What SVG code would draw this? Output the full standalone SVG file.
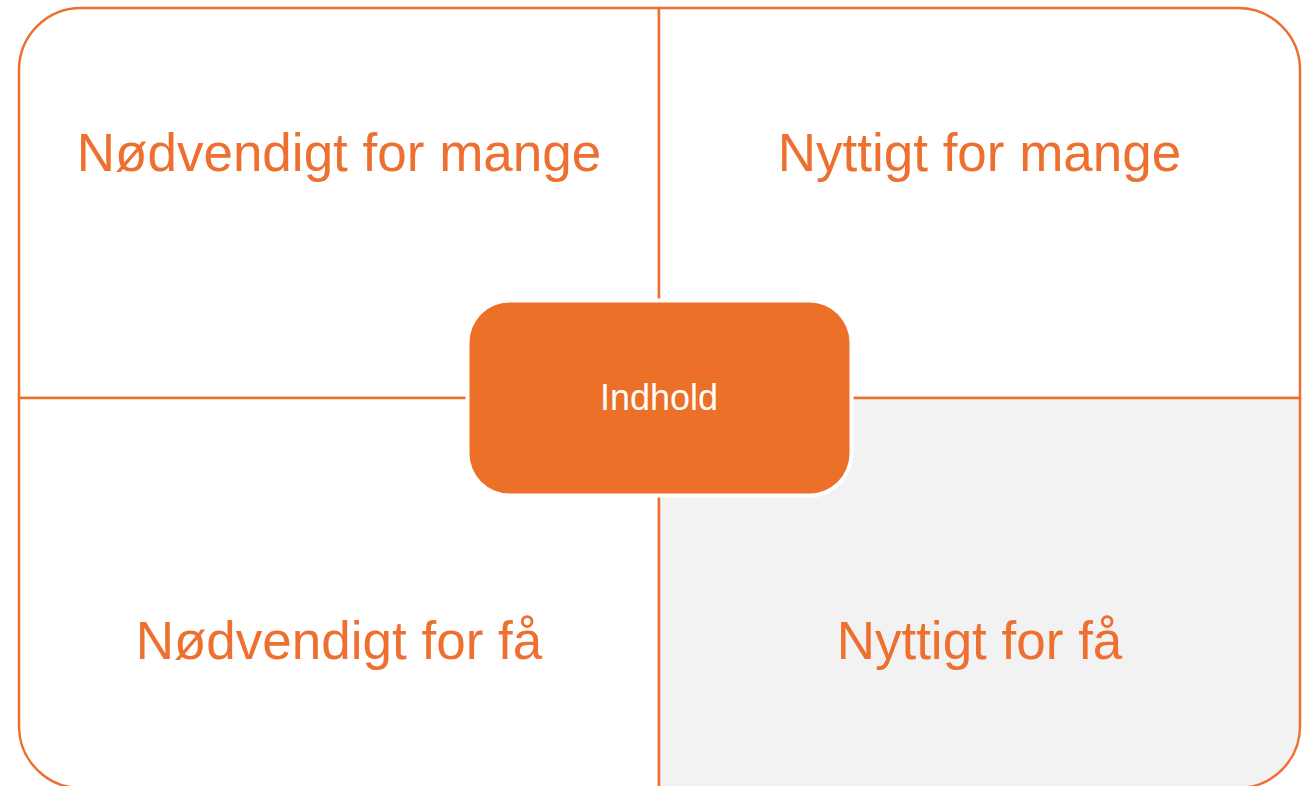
<svg xmlns="http://www.w3.org/2000/svg" width="1311" height="786" viewBox="0 0 1311 786">
<style>
.q{stroke:#ED7030;stroke-width:2.5;}
.lbl{font-family:"Liberation Sans",Arial,sans-serif;font-size:53px;fill:#ED7030;text-anchor:middle;}
.ctr{font-family:"Liberation Sans",Arial,sans-serif;font-size:36px;fill:#ffffff;text-anchor:middle;}
</style>
<rect width="1311" height="786" fill="#ffffff"/>
<g id="quadrant-tl">
<path class="q" fill="#ffffff" d="M19,398 V70 A62,62 0 0 1 81,8 H659 V398 Z"/>
<text class="lbl" x="339" y="171">Nødvendigt for mange</text>
</g>
<g id="quadrant-tr">
<path class="q" fill="#ffffff" d="M659,8 H1238 A62,62 0 0 1 1300,70 V398 H659 Z"/>
<text class="lbl" x="979.5" y="171">Nyttigt for mange</text>
</g>
<g id="quadrant-bl">
<path class="q" fill="#ffffff" d="M19,398 H659 V788 H81 A62,62 0 0 1 19,726 Z"/>
<text class="lbl" x="339" y="659">Nødvendigt for få</text>
</g>
<g id="quadrant-br">
<path class="q" fill="#F2F2F2" d="M659,398 H1300 V726 A62,62 0 0 1 1238,788 H659 Z"/>
<text class="lbl" x="979.5" y="659">Nyttigt for få</text>
</g>
<g id="connectors"></g>
<g id="center">
<rect x="465.5" y="298.5" width="388" height="199" rx="44" ry="44" fill="#ffffff"/>
<rect x="469.5" y="302.5" width="380" height="191" rx="40" ry="40" fill="#ED7028"/>
<text class="ctr" x="659" y="410">Indhold</text>
</g>
</svg>
